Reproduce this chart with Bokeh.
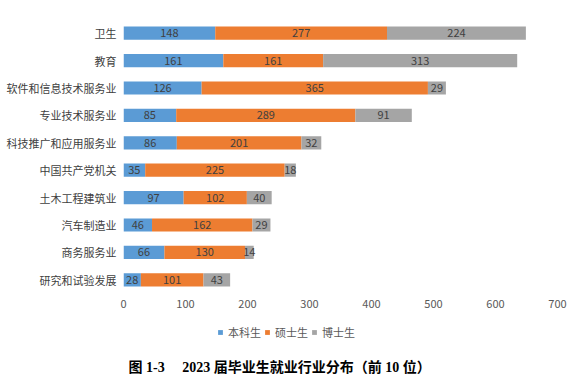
from bokeh.plotting import figure
from bokeh.models import ColumnDataSource, Legend, LegendItem, Label, Range1d, FactorRange
from bokeh.layouts import column
from bokeh.core.properties import value
from bokeh.embed import file_html
from bokeh.resources import INLINE

categories = ["卫生", "教育", "软件和信息技术服务业", "专业技术服务业", "科技推广和应用服务业",
              "中国共产党机关", "土木工程建筑业", "汽车制造业", "商务服务业", "研究和试验发展"]
bachelor = [148, 161, 126, 85, 86, 35, 97, 46, 66, 28]
master = [277, 161, 365, 289, 201, 225, 102, 162, 130, 101]
doctor = [224, 313, 29, 91, 32, 18, 40, 29, 14, 43]
series_names = ["本科生", "硕士生", "博士生"]
series_keys = ["bachelor", "master", "doctor"]
colors = ["#5B9BD5", "#ED7D31", "#A5A5A5"]
x_ticks = [0, 100, 200, 300, 400, 500, 600, 700]
caption = "图 1-3\u2003\u00a02023 届毕业生就业行业分布（前 10 位）"

FONT = "'Noto Sans CJK SC'"
W = 584
BL, BR = 123, 27

src = ColumnDataSource(dict(cat=categories, bachelor=bachelor, master=master, doctor=doctor))

p = figure(width=W, height=318, y_range=FactorRange(*list(reversed(categories)), range_padding=0),
           x_range=Range1d(0, 700), output_backend="svg", toolbar_location=None,
           min_border_left=BL, min_border_right=BR, min_border_top=19, min_border_bottom=25)
p.outline_line_color = None
p.xgrid.grid_line_color = None
p.ygrid.grid_line_color = None

p.hbar_stack(series_keys, y="cat", height=0.48, color=colors, source=src, line_color=None)

# segment labels
lab_x, lab_y, lab_t = [], [], []
for i, c in enumerate(categories):
    left = 0
    for vals in (bachelor, master, doctor):
        v = vals[i]
        lab_x.append(left + v / 2)
        lab_y.append(c)
        lab_t.append(str(v))
        left += v
p.text(x=lab_x, y=lab_y, text=lab_t, text_align="center", text_baseline="middle",
       text_font_size="11px", text_color="#404040", text_font=value(FONT))

p.xaxis.ticker = x_ticks
p.xaxis.axis_line_color = None
p.xaxis.major_tick_line_color = None
p.xaxis.minor_tick_line_color = None
p.xaxis.major_tick_out = 0
p.xaxis.major_tick_in = 0
p.xaxis.minor_tick_out = 0
p.xaxis.major_label_text_font_size = "11px"
p.xaxis.major_label_text_color = "#595959"
p.xaxis.major_label_text_font = FONT
p.xaxis.major_label_standoff = 6

p.yaxis.axis_line_color = None
p.yaxis.major_tick_line_color = None
p.yaxis.minor_tick_line_color = None
p.yaxis.major_tick_out = 0
p.yaxis.major_tick_in = 0
p.yaxis.minor_tick_out = 0
p.yaxis.major_label_text_font_size = "11px"
p.yaxis.major_label_text_color = "#404040"
p.yaxis.major_label_text_font = FONT
p.yaxis.major_label_standoff = 7

# second strip: legend and caption (frame aligned with the main frame)
FW = W - BL - BR
p2 = figure(width=W, height=70, x_range=Range1d(0, FW), y_range=Range1d(0, 70),
            output_backend="svg", toolbar_location=None,
            min_border_left=BL, min_border_right=BR, min_border_top=0, min_border_bottom=0)
p2.axis.visible = False
p2.grid.visible = False
p2.outline_line_color = None
dummies = [p2.hbar(y=[0], left=[0], right=[0], height=0, color=c, line_color=None, visible=False)
           for c in colors]

legend = Legend(items=[LegendItem(label=n, renderers=[r]) for n, r in zip(series_names, dummies)],
                orientation="horizontal", location=(217 - BL, 48), border_line_color=None,
                background_fill_alpha=0, label_text_font_size="11px", label_text_color="#595959",
                label_text_font=FONT, glyph_width=6, glyph_height=6, spacing=3,
                label_standoff=5, padding=0, margin=0, label_height=14)
p2.add_layout(legend, "center")

cap = Label(x=128 - BL, y=21, x_units="screen", y_units="screen", text=caption,
            text_font_size="14px", text_font_style="bold", text_color="#000000",
            text_baseline="middle", text_align="left",
            text_font="'Liberation Serif', 'Noto Sans CJK SC'")
p2.add_layout(cap)

layout = column(p, p2, spacing=0)
open("out.html", "w").write(file_html(layout, INLINE))
